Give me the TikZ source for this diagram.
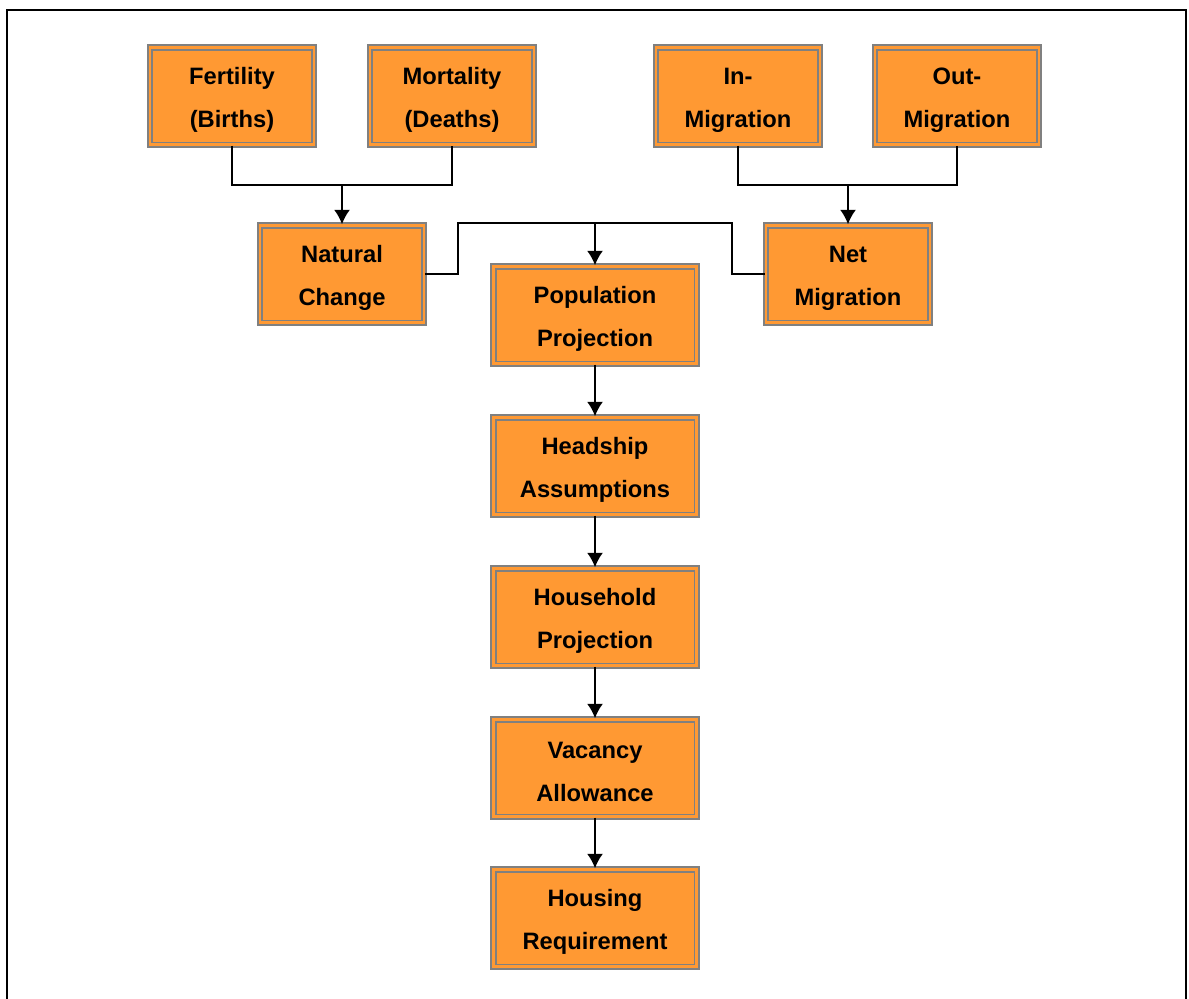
\documentclass[tikz,border=0pt]{standalone}
\usepackage{fontspec}
\setmainfont{Liberation Sans}
\usetikzlibrary{arrows.meta}
\definecolor{boxorange}{RGB}{255,153,51}
\definecolor{boxgray}{RGB}{128,128,128}
\begin{document}
\begin{tikzpicture}[
    box/.style={draw=boxgray,line width=1.1pt,double=boxorange,double distance=1.5pt,
        fill=boxorange,minimum width=3.28cm,minimum height=1.95cm,inner sep=0pt,
        align=center,font=\fontsize{13.5}{24.4}\selectfont\bfseries},
    widebox/.style={box,minimum width=4.07cm},
    link/.style={line width=1pt},
    >={Latex[length=2.9mm,width=3.2mm]}
]
\useasboundingbox (0,0) rectangle (23.78,-19.96);
\draw[line width=1.1pt] (0.14,-20.5) -- (0.14,-0.2) -- (23.72,-0.2) -- (23.72,-20.5);

\node[box] (fert) at (4.64,-1.92) {\rule{0pt}{0.5cm}Fertility\\(Births)};
\node[box] (mort) at (9.04,-1.92) {\rule{0pt}{0.5cm}Mortality\\(Deaths)};
\node[box] (inmig) at (14.76,-1.92) {\rule{0pt}{0.5cm}In-\\Migration};
\node[box] (outmig) at (19.14,-1.92) {\rule{0pt}{0.5cm}Out-\\Migration};
\node[box] (nat) at (6.84,-5.48) {\rule{0pt}{0.5cm}Natural\\Change};
\node[box] (net) at (16.96,-5.48) {\rule{0pt}{0.5cm}Net\\Migration};
\node[widebox] (pop) at (11.9,-6.30) {\rule{0pt}{0.5cm}Population\\Projection};
\node[widebox] (head) at (11.9,-9.32) {\rule{0pt}{0.5cm}Headship\\Assumptions};
\node[widebox] (hh) at (11.9,-12.34) {\rule{0pt}{0.5cm}Household\\Projection};
\node[widebox] (vac) at (11.9,-15.36) {\rule{0pt}{0.5cm}Vacancy\\Allowance};
\node[widebox] (req) at (11.9,-18.36) {\rule{0pt}{0.5cm}Housing\\Requirement};

\coordinate (natj) at (6.84,-3.70);
\coordinate (netj) at (16.96,-3.70);
\coordinate (tl) at (9.16,-4.46);
\coordinate (tm) at (11.9,-4.46);
\coordinate (tr) at (14.64,-4.46);

\draw[link] (fert.south) |- (natj) -| (mort.south);
\draw[link,->] (natj)--(nat.north);
\draw[link] (inmig.south) |- (netj) -| (outmig.south);
\draw[link,->] (netj)--(net.north);
\draw[link] (nat.east) -| (tl) -- (tr) |- (net.west);
\draw[link,->] (tm)--(pop.north);
\draw[link,->] (pop)--(head);
\draw[link,->] (head)--(hh);
\draw[link,->] (hh)--(vac);
\draw[link,->] (vac)--(req);
\end{tikzpicture}
\end{document}
